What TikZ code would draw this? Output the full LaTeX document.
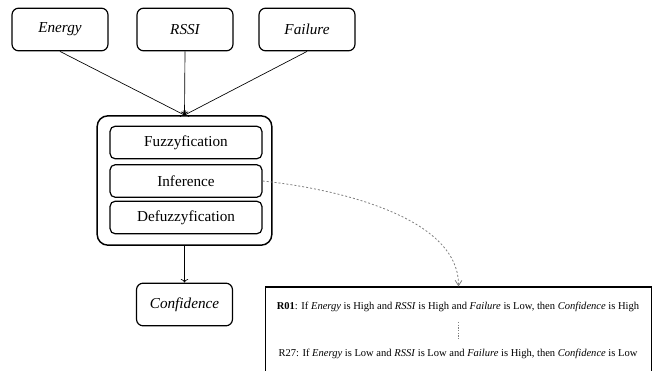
\documentclass[tikz,border=0pt]{standalone}
\usepackage{fontspec}
\setmainfont{Liberation Serif}[
    ItalicFont={Liberation Serif Italic},
    BoldFont={Liberation Serif Bold}]
\usetikzlibrary{arrows.meta}

\begin{document}
\begin{tikzpicture}[x=0.75pt, y=-0.75pt,
                    inbox/.style={draw, line width=0.9pt, rounded corners=5pt,
                        minimum width=72pt, minimum height=32pt,
                        font=\fontsize{11.4}{13}\selectfont\itshape},
                    stage/.style={draw, line width=0.9pt, rounded corners=4pt,
                        minimum width=114pt, minimum height=24.5pt,
                        font=\fontsize{11.4}{13}\selectfont},
                    flow/.style={->, line width=0.5pt}]
                \useasboundingbox (0,0) rectangle (660,371);

                \node [inbox] (energy) at (60,29.5) {Energy};
                \node [inbox] (rssi) at (185,29.5) {RSSI};
                \node [inbox] (failure) at (307,29.5) {Failure};

                \node [draw, line width=1.1pt, rounded corners=8pt,
                       minimum width=131pt, minimum height=97pt] (fis) at (184.5,180.5) {};
                \node [stage] (fuzz) at (186,142.5) {Fuzzyfication};
                \node [stage] (infer) at (186,181) {Inference};
                \node [stage] (defuzz) at (186,217.5) {Defuzzyfication};

                \node [inbox] (conf) at (184.5,304.5) {Confidence};

                \draw [flow] (energy.south) -- (fis.north);
                \draw [flow] (rssi.south) -- (fis.north);
                \draw [flow] (failure.south) -- (fis.north);
                \draw [flow] (fis.south) -- (conf.north);

                % rule base
                \node [draw, line width=0.8pt, minimum width=290pt, minimum height=64.5pt] (rules) at (458.5,330) {};
                \node [font=\fontsize{7.9}{9}\selectfont] (r01) at (458,307)
                    {\textbf{R01}: If \emph{Energy} is High and \emph{RSSI} is High and \emph{Failure} is Low, then \emph{Confidence} is High};
                \node [font=\fontsize{7.9}{9}\selectfont] (r27) at (458,354)
                    {R27: If \emph{Energy} is Low and \emph{RSSI} is Low and \emph{Failure} is High, then \emph{Confidence} is Low};
                \draw [gray, dash pattern=on 1pt off 1pt, line width=0.6pt]
                    ([yshift=-4pt]r01.south) -- ([yshift=4pt]r27.north);

                \draw [gray, dash pattern=on 1.5pt off 1.5pt, line width=0.6pt, -{Straight Barb[length=4pt, width=5pt]}]
                    (infer.east) .. controls (330,188) and (459,215) .. (rules.north);
            \end{tikzpicture}
\end{document}
